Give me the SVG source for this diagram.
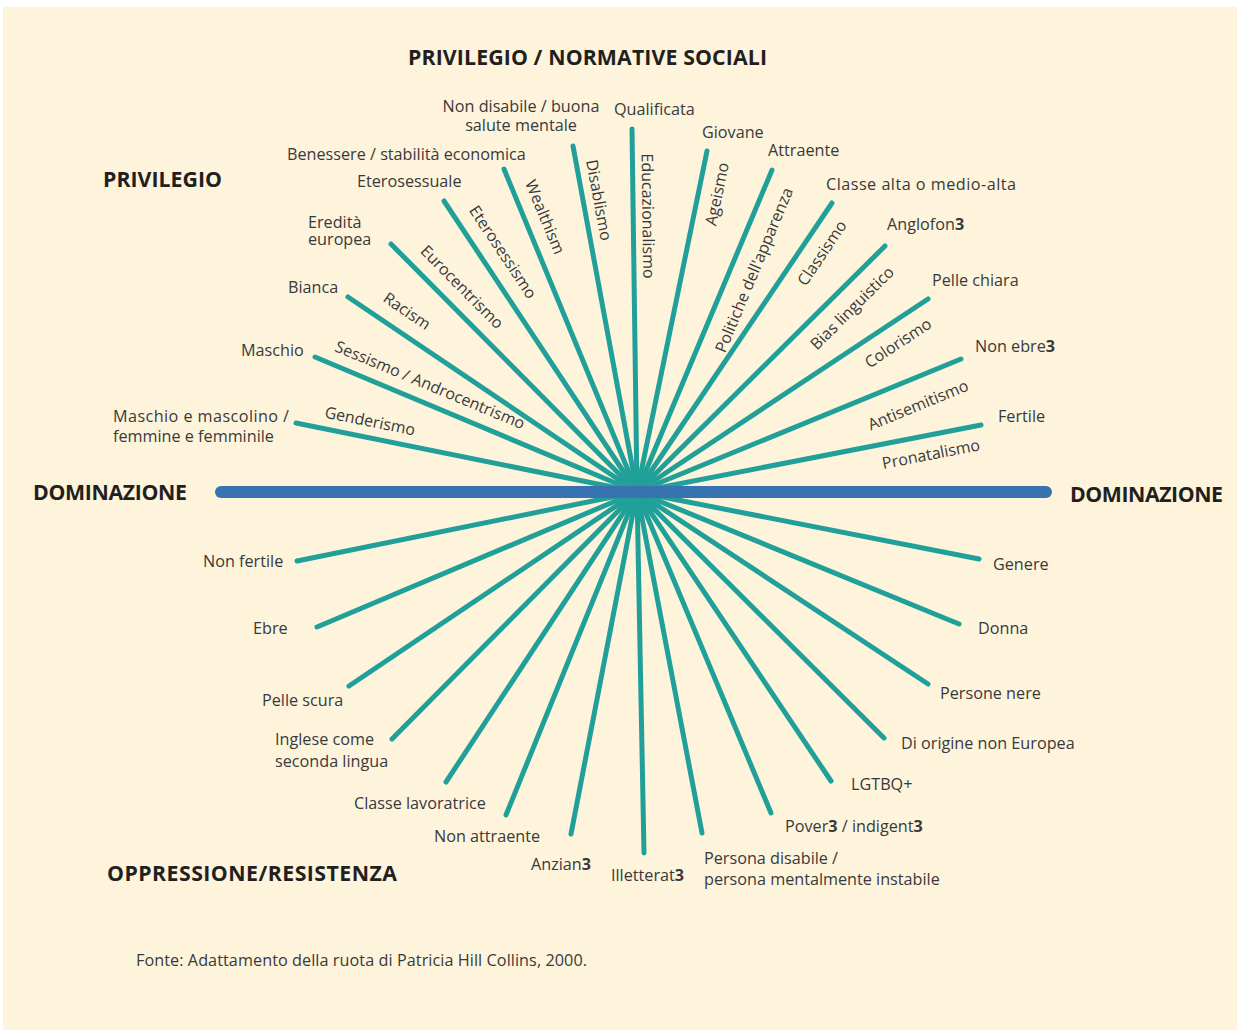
<svg xmlns="http://www.w3.org/2000/svg" width="1237" height="1030" viewBox="0 0 1237 1030">
  <style>
    .bg { fill: #FEF4DC; }
    .spoke { stroke: #21A09A; stroke-width: 5; stroke-linecap: round; fill: none; }
    .axis { stroke: #3673B0; stroke-width: 12; stroke-linecap: round; fill: none; }
    .lbl { font-family: "Open Sans", "Liberation Sans", sans-serif; font-size: 16.2px; fill: #38393B; }
    .rot { font-family: "Open Sans", "Liberation Sans", sans-serif; font-size: 16px; fill: #38393B; text-anchor: middle; }
    .head { font-family: "Open Sans", "Liberation Sans", sans-serif; font-size: 21.3px; font-weight: 700; fill: #231F20; }
    .src { font-family: "Open Sans", "Liberation Sans", sans-serif; font-size: 16.2px; fill: #38393B; }
    .s3 { font-weight: 700; }
  </style>

  <rect class="bg" x="3" y="7" width="1234" height="1023"/>

  <!-- spokes radiating from the wheel hub -->
  <g id="connectors">
    <line class="spoke" x1="637" y1="492" x2="296" y2="423"/>
    <line class="spoke" x1="637" y1="492" x2="315" y2="357"/>
    <line class="spoke" x1="637" y1="492" x2="348" y2="297"/>
    <line class="spoke" x1="637" y1="492" x2="391" y2="244"/>
    <line class="spoke" x1="637" y1="492" x2="444" y2="201"/>
    <line class="spoke" x1="637" y1="492" x2="504" y2="169"/>
    <line class="spoke" x1="637" y1="492" x2="573" y2="146"/>
    <line class="spoke" x1="637" y1="492" x2="632" y2="129"/>
    <line class="spoke" x1="637" y1="492" x2="707" y2="151"/>
    <line class="spoke" x1="637" y1="492" x2="772" y2="170"/>
    <line class="spoke" x1="637" y1="492" x2="832" y2="203"/>
    <line class="spoke" x1="637" y1="492" x2="885" y2="246"/>
    <line class="spoke" x1="637" y1="492" x2="928" y2="299"/>
    <line class="spoke" x1="637" y1="492" x2="961" y2="359"/>
    <line class="spoke" x1="637" y1="492" x2="981" y2="425"/>

    <line class="spoke" x1="637" y1="492" x2="297" y2="561"/>
    <line class="spoke" x1="637" y1="492" x2="317" y2="627"/>
    <line class="spoke" x1="637" y1="492" x2="349" y2="686"/>
    <line class="spoke" x1="637" y1="492" x2="392" y2="739"/>
    <line class="spoke" x1="637" y1="492" x2="446" y2="782"/>
    <line class="spoke" x1="637" y1="492" x2="506" y2="815"/>
    <line class="spoke" x1="637" y1="492" x2="571" y2="834"/>
    <line class="spoke" x1="637" y1="492" x2="644" y2="853"/>
    <line class="spoke" x1="637" y1="492" x2="702" y2="833"/>
    <line class="spoke" x1="637" y1="492" x2="771" y2="813"/>
    <line class="spoke" x1="637" y1="492" x2="831" y2="781"/>
    <line class="spoke" x1="637" y1="492" x2="884" y2="738"/>
    <line class="spoke" x1="637" y1="492" x2="928" y2="684"/>
    <line class="spoke" x1="637" y1="492" x2="959" y2="624"/>
    <line class="spoke" x1="637" y1="492" x2="979" y2="559"/>

    <!-- horizontal domination axis -->
    <line class="axis" x1="221" y1="492" x2="1046" y2="492"/>
  </g>

  <!-- section headings -->
  <g id="headings">
    <text class="head" x="408" y="65" textLength="359">PRIVILEGIO / NORMATIVE SOCIALI</text>
    <text class="head" x="103" y="187" textLength="119">PRIVILEGIO</text>
    <text class="head" x="33" y="500" textLength="154">DOMINAZIONE</text>
    <text class="head" x="1070" y="502" textLength="153">DOMINAZIONE</text>
    <text class="head" x="107" y="881" textLength="290">OPPRESSIONE/RESISTENZA</text>
  </g>

  <!-- spoke names (forms of oppression) along each spoke -->
  <g id="spoke-names">
    <text class="rot" transform="translate(370,421) rotate(11.4)" dy="0.35em">Genderismo</text>
    <text class="rot" transform="translate(430,385) rotate(22.7)" dy="0.35em">Sessismo / Androcentrismo</text>
    <text class="rot" transform="translate(407,311) rotate(34)" dy="0.35em">Racism</text>
    <text class="rot" transform="translate(462,287) rotate(45.2)" dy="0.35em">Eurocentrismo</text>
    <text class="rot" transform="translate(503,252) rotate(56.4)" dy="0.35em">Eterosessismo</text>
    <text class="rot" transform="translate(545,217) rotate(67.6)" dy="0.35em">Wealthism</text>
    <text class="rot" transform="translate(599,200) rotate(79.5)" dy="0.35em">Disablismo</text>
    <text class="rot" transform="translate(648,216) rotate(89.2)" dy="0.35em">Educazionalismo</text>
    <text class="rot" transform="translate(717,194) rotate(-78.4)" dy="0.35em">Ageismo</text>
    <text class="rot" transform="translate(754,270) rotate(-67.3)" dy="0.35em">Politiche dell'apparenza</text>
    <text class="rot" transform="translate(822,253) rotate(-56)" dy="0.35em">Classismo</text>
    <text class="rot" transform="translate(852,308) rotate(-44.8)" dy="0.35em">Bias linguistico</text>
    <text class="rot" transform="translate(898,343) rotate(-33.6)" dy="0.35em">Colorismo</text>
    <text class="rot" transform="translate(918,405) rotate(-22.3)" dy="0.35em">Antisemitismo</text>
    <text class="rot" transform="translate(931,454) rotate(-11)" dy="0.35em">Pronatalismo</text>
  </g>

  <!-- privileged groups (upper half) -->
  <g id="privileged">
    <g id="n-maschio-femminile"><text class="lbl" x="113" y="422" textLength="176">Maschio e mascolino /</text><text class="lbl" x="113" y="442">femmine e femminile</text></g>
    <g id="n-maschio"><text class="lbl" x="241" y="356">Maschio</text></g>
    <g id="n-bianca"><text class="lbl" x="288" y="293">Bianca</text></g>
    <g id="n-eredita"><text class="lbl" x="308" y="228">Eredità</text><text class="lbl" x="308" y="245">europea</text></g>
    <g id="n-eterosessuale"><text class="lbl" x="357" y="187">Eterosessuale</text></g>
    <g id="n-benessere"><text class="lbl" x="287" y="160">Benessere / stabilità economica</text></g>
    <g id="n-non-disabile"><text class="lbl" x="521" y="112" text-anchor="middle">Non disabile / buona</text><text class="lbl" x="521" y="131" text-anchor="middle">salute mentale</text></g>
    <g id="n-qualificata"><text class="lbl" x="614" y="115">Qualificata</text></g>
    <g id="n-giovane"><text class="lbl" x="702" y="138">Giovane</text></g>
    <g id="n-attraente"><text class="lbl" x="768" y="156">Attraente</text></g>
    <g id="n-classe-alta"><text class="lbl" x="826" y="190" textLength="190">Classe alta o medio-alta</text></g>
    <g id="n-anglofon"><text class="lbl" x="887" y="230">Anglofon<tspan class="s3">3</tspan></text></g>
    <g id="n-pelle-chiara"><text class="lbl" x="932" y="286">Pelle chiara</text></g>
    <g id="n-non-ebre"><text class="lbl" x="975" y="352">Non ebre<tspan class="s3">3</tspan></text></g>
    <g id="n-fertile"><text class="lbl" x="998" y="422">Fertile</text></g>
  </g>

  <!-- oppressed groups (lower half) -->
  <g id="oppressed">
    <g id="n-non-fertile"><text class="lbl" x="203" y="567">Non fertile</text></g>
    <g id="n-ebre"><text class="lbl" x="253" y="634">Ebre</text></g>
    <g id="n-pelle-scura"><text class="lbl" x="262" y="706">Pelle scura</text></g>
    <g id="n-inglese"><text class="lbl" x="275" y="745">Inglese come</text><text class="lbl" x="275" y="767">seconda lingua</text></g>
    <g id="n-classe-lavoratrice"><text class="lbl" x="354" y="809">Classe lavoratrice</text></g>
    <g id="n-non-attraente"><text class="lbl" x="434" y="842">Non attraente</text></g>
    <g id="n-anzian"><text class="lbl" x="531" y="870">Anzian<tspan class="s3">3</tspan></text></g>
    <g id="n-illetterat"><text class="lbl" x="611" y="881">Illetterat<tspan class="s3">3</tspan></text></g>
    <g id="n-persona-disabile"><text class="lbl" x="704" y="864">Persona disabile /</text><text class="lbl" x="704" y="885">persona mentalmente instabile</text></g>
    <g id="n-pover"><text class="lbl" x="785" y="832">Pover<tspan class="s3">3</tspan> / indigent<tspan class="s3">3</tspan></text></g>
    <g id="n-lgtbq"><text class="lbl" x="851" y="790">LGTBQ+</text></g>
    <g id="n-non-europea"><text class="lbl" x="901" y="749">Di origine non Europea</text></g>
    <g id="n-persone-nere"><text class="lbl" x="940" y="699">Persone nere</text></g>
    <g id="n-donna"><text class="lbl" x="978" y="634">Donna</text></g>
    <g id="n-genere"><text class="lbl" x="993" y="570">Genere</text></g>
  </g>

  <text class="src" x="136" y="966" textLength="451">Fonte: Adattamento della ruota di Patricia Hill Collins, 2000.</text>
</svg>
